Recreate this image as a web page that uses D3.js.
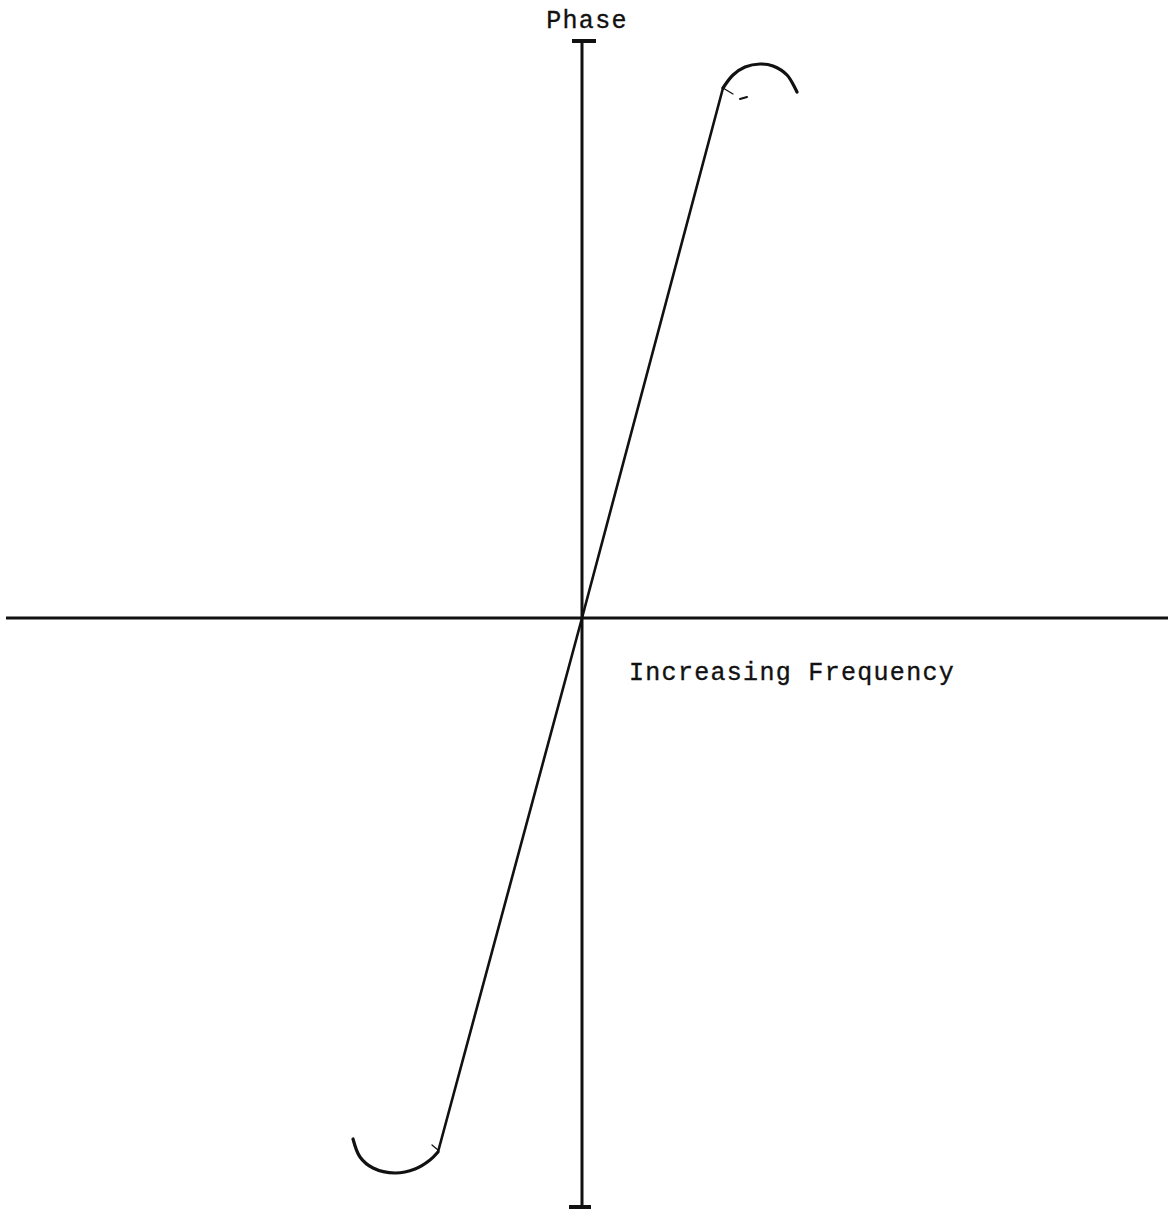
<!DOCTYPE html>
<html>
<head>
<meta charset="utf-8">
<script src="https://cdn.jsdelivr.net/npm/d3@7"></script>
<style>
  body { margin:0; background:#fff; }
  svg text { font-family:"Liberation Mono","DejaVu Sans Mono",monospace; fill:#111; stroke:#111; stroke-width:0.35; }
</style>
</head>
<body>
<svg id="chart"></svg>
<script>
// axis extents (frequency left/right, phase bottom/top)
var freqExtent = [-5.76, 5.86]
var phaseExtent = [-5.90, 5.78]

// phase curve, in three pieces: low hook, straight part, high hook
var lowHookFreq  = [-2.29, -2.22, -2.09, -1.87, -1.67, -1.52, -1.44]
var lowHookPhase = [-5.21, -5.39, -5.50, -5.55, -5.51, -5.42, -5.34]
var lineFreq  = [-1.44, 0, 1.41]
var linePhase = [-5.34, 0, 5.30]
var highHookFreq  = [1.41, 1.51, 1.63, 1.78, 1.91, 2.05, 2.15]
var highHookPhase = [5.30, 5.43, 5.51, 5.54, 5.52, 5.43, 5.26]

var axisLabels = ["Phase", "Increasing Frequency"]

var zip = function(xs, ys)
{
    return xs.map(function(x, i) { return {f:x, p:ys[i]} })
}

var initChart = function()
{
    var screen = {width:1172, height:1213}
    var svg = d3.select("#chart")
        .attr("width", screen.width)
        .attr("height", screen.height)

    var xScale = d3.scaleLinear()
        .domain(freqExtent)
        .range([6, 1168])
    var yScale = d3.scaleLinear()
        .domain(phaseExtent)
        .range([1208, 40])

    var axes = svg.append("g").attr("stroke", "#111").attr("fill", "none")

    // frequency axis
    axes.append("line")
        .attr("x1", xScale(freqExtent[0]))
        .attr("x2", xScale(freqExtent[1]))
        .attr("y1", yScale(0))
        .attr("y2", yScale(0))
        .attr("stroke-width", 3)

    // phase axis
    axes.append("line")
        .attr("x1", xScale(0))
        .attr("x2", xScale(0))
        .attr("y1", yScale(phaseExtent[0]))
        .attr("y2", yScale(phaseExtent[1]))
        .attr("stroke-width", 3)

    // end caps on the phase axis
    axes.append("line")
        .attr("x1", xScale(0) - 10)
        .attr("x2", xScale(0) + 14)
        .attr("y1", yScale(phaseExtent[1]) + 1)
        .attr("y2", yScale(phaseExtent[1]) + 1)
        .attr("stroke-width", 4)
    axes.append("line")
        .attr("x1", xScale(0) - 13)
        .attr("x2", xScale(0) + 9)
        .attr("y1", yScale(phaseExtent[0]) - 1)
        .attr("y2", yScale(phaseExtent[0]) - 1)
        .attr("stroke-width", 4)

    var straight = d3.line()
        .x(function(d) { return xScale(d.f) })
        .y(function(d) { return yScale(d.p) })
    var smooth = d3.line()
        .x(function(d) { return xScale(d.f) })
        .y(function(d) { return yScale(d.p) })
        .curve(d3.curveCatmullRom)

    var curve = svg.append("g")
        .attr("stroke", "#111")
        .attr("fill", "none")
        .attr("stroke-linecap", "round")

    curve.append("path")
        .attr("d", smooth(zip(lowHookFreq, lowHookPhase)))
        .attr("stroke-width", 3.2)
    curve.append("path")
        .attr("d", straight(zip(lineFreq, linePhase)))
        .attr("stroke-width", 2.6)
    curve.append("path")
        .attr("d", smooth(zip(highHookFreq, highHookPhase)))
        .attr("stroke-width", 3.2)

    // little pen ticks where the hooks join the line
    var hi = zip(lineFreq, linePhase)[2]
    var lo = zip(lineFreq, linePhase)[0]
    curve.append("line")
        .attr("x1", xScale(hi.f)).attr("y1", yScale(hi.p))
        .attr("x2", xScale(hi.f) + 10).attr("y2", yScale(hi.p) + 6)
        .attr("stroke-width", 1.3)
    curve.append("line")
        .attr("x1", xScale(hi.f) + 17).attr("y1", yScale(hi.p) + 11)
        .attr("x2", xScale(hi.f) + 24).attr("y2", yScale(hi.p) + 9)
        .attr("stroke-width", 2)
    curve.append("line")
        .attr("x1", xScale(lo.f)).attr("y1", yScale(lo.p) - 2)
        .attr("x2", xScale(lo.f) - 6).attr("y2", yScale(lo.p) - 7)
        .attr("stroke-width", 1.3)

    var labels = svg.append("g")
    labels.append("text")
        .text(axisLabels[0])
        .attr("x", xScale(0) + 5)
        .attr("y", 28)
        .attr("text-anchor", "middle")
        .attr("font-size", 25)
        .attr("letter-spacing", 1.3)
    labels.append("text")
        .text(axisLabels[1])
        .attr("x", 629)
        .attr("y", 680)
        .attr("font-size", 25)
        .attr("letter-spacing", 1.3)
}

initChart()
</script>
</body>
</html>
